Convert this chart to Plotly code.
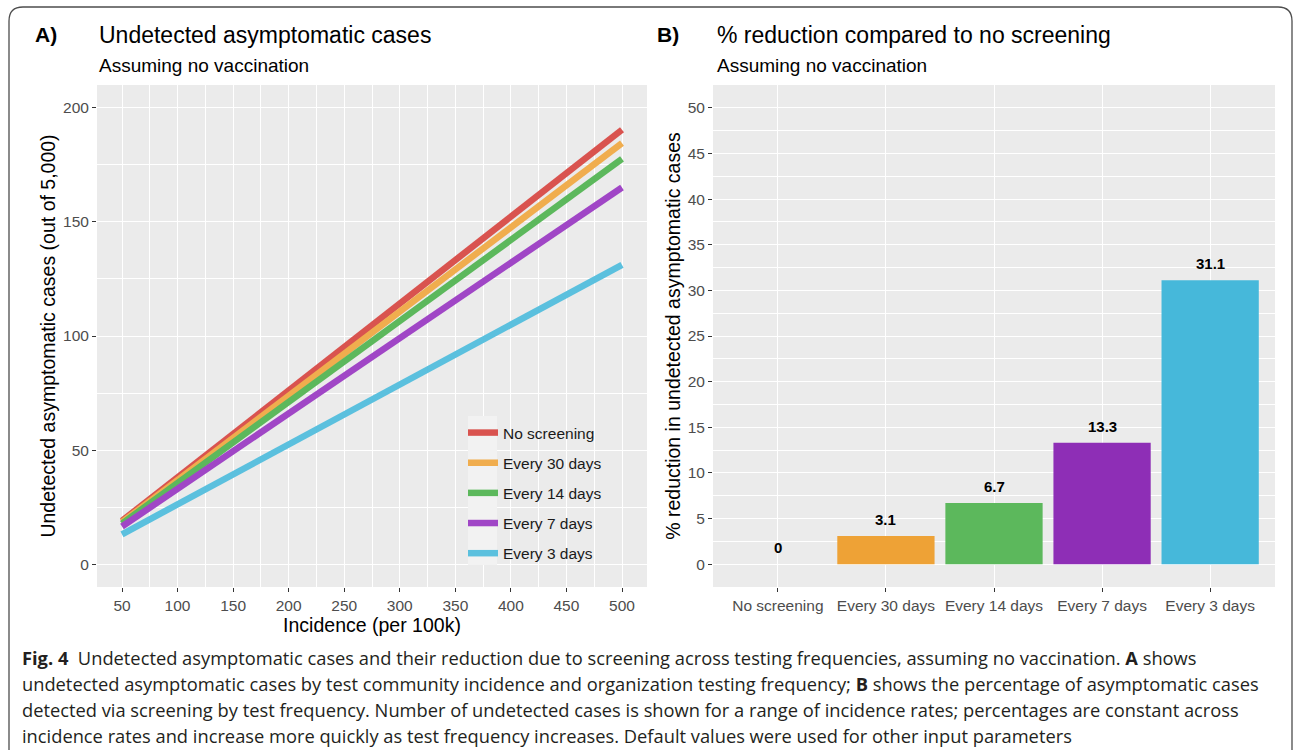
import plotly.graph_objects as go

# ---------------- data ----------------
incidence = [50, 100, 150, 200, 250, 300, 350, 400, 450, 500]
series_names = ["No screening", "Every 30 days", "Every 14 days", "Every 7 days", "Every 3 days"]
no_screening = [19.0, 38.1, 57.1, 76.2, 95.2, 114.3, 133.3, 152.4, 171.4, 190.4]
every_30 = [18.4, 36.9, 55.3, 73.8, 92.2, 110.7, 129.2, 147.6, 166.1, 184.5]
every_14 = [17.8, 35.5, 53.3, 71.1, 88.8, 106.6, 124.4, 142.1, 159.9, 177.6]
every_7 = [16.5, 33.0, 49.5, 66.0, 82.5, 99.0, 115.6, 132.1, 148.6, 165.1]
every_3 = [13.1, 26.2, 39.3, 52.5, 65.6, 78.7, 91.8, 104.9, 118.0, 131.2]
line_values = [no_screening, every_30, every_14, every_7, every_3]

reduction = [0, 3.1, 6.7, 13.3, 31.1]
reduction_labels = ["0", "3.1", "6.7", "13.3", "31.1"]

line_colors = ["#D9534F", "#F0AD4E", "#5CB85C", "#A046C6", "#5BC0DE"]
bar_colors = ["#D9534F", "#EEA236", "#5CB85C", "#8E2EB6", "#46B8DA"]

W, H = 1295, 750
def px(x):
    return x / W
def py(y):
    return 1 - y / H

FONT = "Liberation Sans, Arial, sans-serif"
CAP_FONT = "Open Sans, Noto Sans, sans-serif"
TICK = 15.5

fig = go.Figure()

for i, (name, vals) in enumerate(zip(series_names, line_values)):
    fig.add_trace(go.Scatter(
        x=incidence, y=vals, mode="lines", name=name,
        line=dict(color=line_colors[i], width=6.5),
        legendgroup=name, xaxis="x", yaxis="y",
    ))

fig.add_trace(go.Bar(
    x=series_names, y=reduction, marker=dict(color=bar_colors, line=dict(width=0)),
    width=0.9, showlegend=False, xaxis="x2", yaxis="y2",
))

annotations = []
for name, v, lab in zip(series_names, reduction, reduction_labels):
    annotations.append(dict(
        x=name, y=v, xref="x2", yref="y2", text="<b>" + lab + "</b>",
        showarrow=False, yanchor="bottom", yshift=6,
        font=dict(family=FONT, size=15, color="#000000"),
    ))

grid = dict(showgrid=True, gridcolor="#FFFFFF", gridwidth=1.1, zeroline=False, showline=False,
            ticks="outside", ticklen=4, tickwidth=1, tickcolor="#333333",
            tickfont=dict(family=FONT, size=TICK, color="#4D4D4D"))
title_font = dict(family=FONT, size=19.5, color="#000000")

fig.update_layout(
    width=W, height=H,
    margin=dict(l=0, r=0, t=0, b=0, autoexpand=False),
    paper_bgcolor="#FFFFFF", plot_bgcolor="#EBEBEB",
    font=dict(family=FONT, color="#000000"),
    xaxis=dict(domain=[px(97), px(647)], range=[27.5, 522.5], tick0=50, dtick=50,
               minor=dict(showgrid=True, gridcolor="#FFFFFF", gridwidth=0.5, dtick=25, tick0=25),
               title=dict(text="Incidence (per 100k)", font=title_font, standoff=0),
               anchor="y", **grid),
    yaxis=dict(domain=[py(587), py(85)], range=[-10, 210], tick0=0, dtick=50,
               minor=dict(showgrid=True, gridcolor="#FFFFFF", gridwidth=0.5, dtick=25, tick0=25),
               title=dict(text="Undetected asymptomatic cases (out of 5,000)", font=title_font, standoff=2),
               anchor="x", **grid),
    xaxis2=dict(domain=[px(713), px(1275)], type="category", range=[-0.6, 4.6],
                anchor="y2", **grid),
    yaxis2=dict(domain=[py(587), py(85)], range=[-2.5, 52.5], tick0=0, dtick=5,
                minor=dict(showgrid=True, gridcolor="#FFFFFF", gridwidth=0.5, dtick=2.5, tick0=2.5),
                title=dict(text="% reduction in undetected asymptomatic cases", font=title_font, standoff=1),
                anchor="x2", **grid),
    legend=dict(x=px(463), y=py(416), xanchor="left", yanchor="top",
                bgcolor="rgba(0,0,0,0)", font=dict(family=FONT, size=15.5, color="#1A1A1A"),
                tracegroupgap=7, itemwidth=30),
    bargap=0.1,
)

# titles
title_specs = [
    (33, 35, "<b>A)</b>", 21), (97, 35, "Undetected asymptomatic cases", 23),
    (97, 65, "Assuming no vaccination", 19),
    (655, 35, "<b>B)</b>", 21), (715, 35, "% reduction compared to no screening", 23),
    (715, 65, "Assuming no vaccination", 19),
]
for x, y, t, s in title_specs:
    annotations.append(dict(x=px(x), y=py(y), xref="paper", yref="paper", text=t, showarrow=False,
                            xanchor="left", yanchor="middle", font=dict(family=FONT, size=s, color="#000000")))

caption_lines = [
    "<b>Fig. 4</b>  Undetected asymptomatic cases and their reduction due to screening across testing frequencies, assuming no vaccination. <b>A</b> shows",
    "undetected asymptomatic cases by test community incidence and organization testing frequency; <b>B</b> shows the percentage of asymptomatic cases",
    "detected via screening by test frequency. Number of undetected cases is shown for a range of incidence rates; percentages are constant across",
    "incidence rates and increase more quickly as test frequency increases. Default values were used for other input parameters",
]
for i, line in enumerate(caption_lines):
    annotations.append(dict(x=px(20), y=py(657 + i * 26.3), xref="paper", yref="paper", text=line,
                            showarrow=False, xanchor="left", yanchor="middle",
                            font=dict(family=CAP_FONT, size=18.3, color="#231F20")))

fig.update_layout(annotations=annotations)

# frame and legend key background
x0, x1, y0, yb = px(9), px(1292), py(7), py(760)
r_x, r_y = 14 / W, 14 / H
frame_path = (f"M{x0},{yb} L{x0},{y0 - r_y} Q{x0},{y0} {x0 + r_x},{y0} "
              f"L{x1 - r_x},{y0} Q{x1},{y0} {x1},{y0 - r_y} L{x1},{yb}")
fig.update_layout(shapes=[
    dict(type="path", path=frame_path, xref="paper", yref="paper",
         line=dict(color="#4D4D4D", width=1.3), layer="above"),
    dict(type="rect", x0=px(468), x1=px(497), y0=py(565), y1=py(416), xref="paper", yref="paper",
         fillcolor="#F2F2F2", line=dict(width=0), layer="above"),
])

fig.write_html("out.html", config={"displayModeBar": False},
               post_script="document.body.style.margin='0';document.body.style.overflow='hidden';")
